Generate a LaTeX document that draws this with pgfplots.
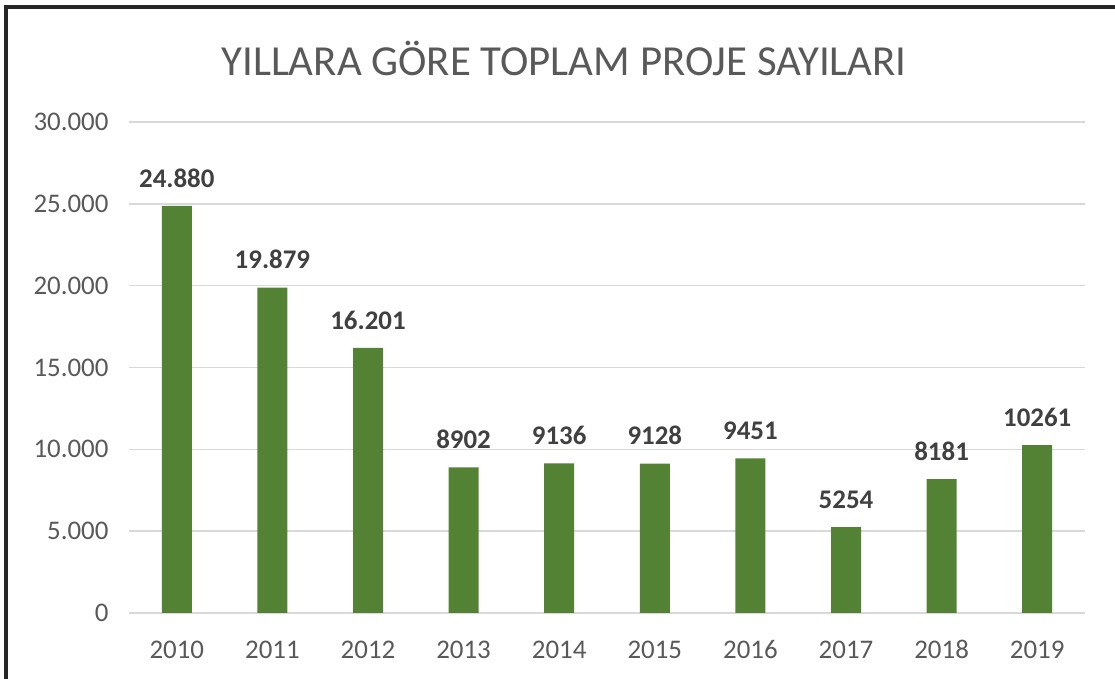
\documentclass[border=0pt]{standalone}
\usepackage{pgfplots}
\pgfplotsset{compat=1.18}
\usepackage{pgfplotstable}
\usepackage{fontspec}
\setmainfont{Carlito}
\definecolor{barg}{HTML}{548235}
\definecolor{gridc}{HTML}{D9D9D9}
\definecolor{txt}{HTML}{595959}
\definecolor{lbl}{HTML}{404040}

% yillara gore proje sayilari
\pgfplotstableread{
x y lab
0 24880 24.880
1 19879 19.879
2 16201 16.201
3 8902 8902
4 9136 9136
5 9128 9128
6 9451 9451
7 5254 5254
8 8181 8181
9 10261 10261
}\projeler

\begin{document}
\begin{tikzpicture}
\path[use as bounding box] (0bp,0bp) rectangle (1115bp,679bp);
\draw[line width=4bp, color=black!85] (6bp,0bp) -- (6bp,672bp) -- (1115bp,672bp);
\node[text=txt, font=\fontsize{43}{50}\selectfont] at (564bp,621bp) {YILLARA GÖRE TOPLAM PROJE SAYILARI};
\begin{axis}[
    at={(129bp,66bp)}, anchor=south west,
    scale only axis,
    width=956bp, height=491bp,
    ybar, bar width=30bp,
    xmin=-0.5, xmax=9.5,
    ymin=0, ymax=30000,
    axis line style={draw=none},
    ymajorgrids,
    major grid style={gridc, line width=1.5bp},
    major tick length=0pt,
    scaled y ticks=false,
    xtick=data,
    xticklabels={2010,2011,2012,2013,2014,2015,2016,2017,2018,2019},
    ytick={0,5000,10000,15000,20000,25000,30000},
    yticklabels={0,5.000,10.000,15.000,20.000,25.000,30.000},
    ticklabel style={text=txt, font=\fontsize{27}{32}\selectfont},
    xticklabel style={anchor=base, yshift=-45bp},
    yticklabel style={xshift=-17bp},
    nodes near coords,
    point meta=explicit symbolic,
    every node near coord/.append style={
        text=lbl, font=\fontsize{27}{32}\selectfont\bfseries,
        anchor=south, yshift=15bp},
    clip=false,
]
\addplot[fill=barg, draw=none] table[x=x, y=y, meta=lab] {\projeler};
\end{axis}
\end{tikzpicture}
\end{document}
